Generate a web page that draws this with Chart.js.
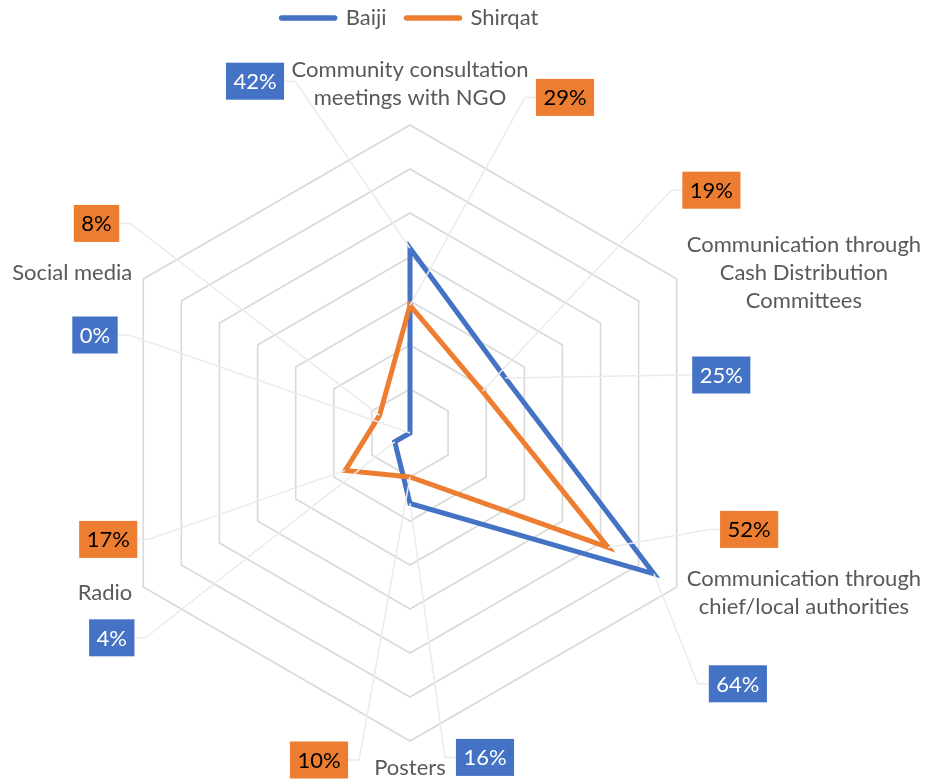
<!DOCTYPE html>
<html>
<head>
<meta charset="utf-8">
<title>Baiji / Shirqat communication channels</title>
<script src="https://cdn.jsdelivr.net/npm/chart.js@4/dist/chart.umd.min.js"></script>
<style>
  html, body { margin: 0; padding: 0; background: #ffffff; }
  canvas { display: block; }
</style>
</head>
<body>
<canvas id="chart" width="930" height="782"></canvas>
<script>
// ---- data ----
const categories = [
  ['Community consultation', 'meetings with NGO'],
  ['Communication through', 'Cash Distribution', 'Committees'],
  ['Communication through', 'chief/local authorities'],
  ['Posters'],
  ['Radio'],
  ['Social media']
];
const seriesNames = ['Baiji', 'Shirqat'];
const baijiValues = [42, 25, 64, 16, 4, 0];
const shirqatValues = [29, 19, 52, 10, 17, 8];
const axisMin = 0;
const axisMax = 70;
const axisStep = 10;

// ---- styling / layout ----
const FONT_FAMILY = 'Lato, "Open Sans", "DejaVu Sans", sans-serif';
const FONT_SIZE = 22;
const LINE_HEIGHT = 28;
const TEXT_GREY = '#595959';
const seriesColors = ['#4472C4', '#ED7D31'];
const boxTextColors = ['#ffffff', '#000000'];
const BOX_PAD_X = 7.5;
const BOX_HEIGHT = 37;
const LEADER_ELBOW = 11;
const LEGEND_BAND = 100;   // vertical room reserved above the plot
const LEGEND_LIFT = 13;    // raises the legend row inside that room

// value boxes, offset from their data point (dx, dy)
const boxOffsets = [
  [[-155, -167], [216, -3], [84, 110], [75, 254], [-283, 196], [-315, -98]],
  [[155, -208], [229, -201], [141, -18], [-91, 283], [-237, 69], [-283, -192]]
];
// category names, placed around the outer ring vertex
const categoryPlacement = [
  { side: 'top', gap: 0, dy: -41 },
  { side: 'right', gap: 10, dy: -6 },
  { side: 'right', gap: 10, dy: 6 },
  { side: 'bottom', gap: 0, dy: 27 },
  { side: 'left', gap: 11, dy: 6 },
  { side: 'left', gap: 11, dy: -6 }
];

const fontString = FONT_SIZE + 'px ' + FONT_FAMILY;

// keeps a fixed band for the legend above the radar
const legendBand = {
  id: 'legendBand',
  beforeInit(chart) {
    const legend = chart.legend;
    const fit = legend.fit;
    legend.fit = function () {
      fit.call(this);
      this.height = LEGEND_BAND;
    };
  },
  afterLayout(chart) {
    chart.legend.top -= LEGEND_LIFT;
  }
};

// category names around the web, lines centred on each other
const categoryLabels = {
  id: 'categoryLabels',
  afterDraw(chart) {
    const scale = chart.scales.r;
    const ctx = chart.ctx;
    ctx.save();
    ctx.font = fontString;
    ctx.fillStyle = TEXT_GREY;
    ctx.textAlign = 'center';
    ctx.textBaseline = 'middle';
    categories.forEach((lines, i) => {
      const v = scale.getPointPosition(i, scale.drawingArea);
      const p = categoryPlacement[i];
      const w = Math.max(...lines.map(l => ctx.measureText(l).width));
      let cx = v.x;
      if (p.side === 'right') cx = v.x + p.gap + w / 2;
      else if (p.side === 'left') cx = v.x - p.gap - w / 2;
      const cy = v.y + p.dy;
      lines.forEach((line, k) => {
        ctx.fillText(line, cx, cy + (k - (lines.length - 1) / 2) * LINE_HEIGHT);
      });
    });
    ctx.restore();
  }
};

// filled value boxes with leader lines back to each point
const valueBoxes = {
  id: 'valueBoxes',
  afterDatasetsDraw(chart) {
    const ctx = chart.ctx;
    ctx.save();
    ctx.font = fontString;
    const items = [];
    chart.data.datasets.forEach((ds, di) => {
      const meta = chart.getDatasetMeta(di);
      meta.data.forEach((pt, i) => {
        const text = ds.data[i] + '%';
        const w = ctx.measureText(text).width + BOX_PAD_X * 2;
        const [dx, dy] = boxOffsets[di][i];
        items.push({ px: pt.x, py: pt.y, text, x: pt.x + dx, y: pt.y + dy, w, h: BOX_HEIGHT, di });
      });
    });
    ctx.strokeStyle = '#ebebeb';
    ctx.lineWidth = 1.5;
    items.forEach(it => {
      const fromLeft = it.px < it.x;
      const edge = fromLeft ? it.x - it.w / 2 : it.x + it.w / 2;
      const elbow = fromLeft ? edge - LEADER_ELBOW : edge + LEADER_ELBOW;
      ctx.beginPath();
      ctx.moveTo(it.px, it.py);
      ctx.lineTo(elbow, it.y);
      ctx.lineTo(edge, it.y);
      ctx.stroke();
    });
    ctx.textAlign = 'center';
    ctx.textBaseline = 'middle';
    items.forEach(it => {
      ctx.fillStyle = seriesColors[it.di];
      ctx.fillRect(it.x - it.w / 2, it.y - it.h / 2, it.w, it.h);
      ctx.fillStyle = boxTextColors[it.di];
      ctx.fillText(it.text, it.x, it.y + 1);
    });
    ctx.restore();
  }
};

new Chart(document.getElementById('chart'), {
  type: 'radar',
  data: {
    labels: categories,
    datasets: [
      {
        label: seriesNames[0],
        data: baijiValues,
        borderColor: seriesColors[0],
        backgroundColor: seriesColors[0],
        borderWidth: 5,
        fill: false,
        pointRadius: 0,
        pointHoverRadius: 0,
        order: 2
      },
      {
        label: seriesNames[1],
        data: shirqatValues,
        borderColor: seriesColors[1],
        backgroundColor: seriesColors[1],
        borderWidth: 5,
        fill: false,
        pointRadius: 0,
        pointHoverRadius: 0,
        order: 1
      }
    ]
  },
  options: {
    responsive: false,
    animation: false,
    events: [],
    layout: { padding: { left: 102, right: 212, top: 0, bottom: 16 } },
    elements: { line: { tension: 0, borderJoinStyle: 'miter' } },
    scales: {
      r: {
        min: axisMin,
        max: axisMax,
        ticks: { display: false, stepSize: axisStep },
        grid: { circular: false, color: '#d9d9d9', lineWidth: 1.6 },
        angleLines: { display: false },
        pointLabels: { display: false }
      }
    },
    plugins: {
      tooltip: { enabled: false },
      legend: {
        position: 'top',
        labels: {
          usePointStyle: true,
          pointStyleWidth: 53,
          padding: 20,
          color: TEXT_GREY,
          font: { family: FONT_FAMILY, size: FONT_SIZE },
          generateLabels: (chart) => chart.data.datasets.map((ds, i) => ({
            text: ds.label,
            fillStyle: ds.borderColor,
            strokeStyle: ds.borderColor,
            lineWidth: 5.5,
            lineCap: 'round',
            pointStyle: 'line',
            fontColor: TEXT_GREY,
            hidden: false,
            datasetIndex: i
          }))
        }
      }
    }
  },
  plugins: [legendBand, valueBoxes, categoryLabels]
});
</script>
</body>
</html>
